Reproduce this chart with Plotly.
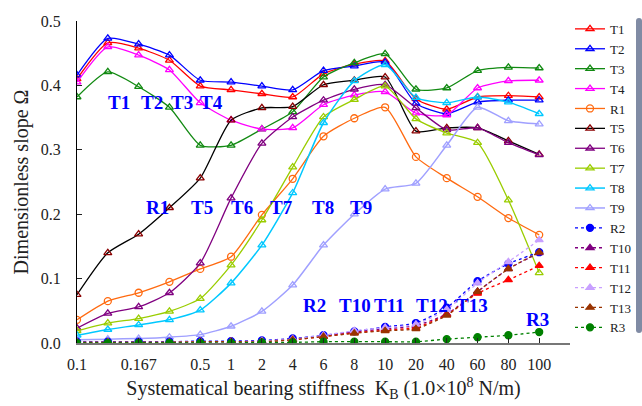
import plotly.graph_objects as go

KB_LABELS = ["0.1", "", "0.167", "", "0.5", "1", "2", "4", "6", "8", "10", "20", "40", "60", "80", "100"]

T1 = [0.410, 0.466, 0.458, 0.439, 0.399, 0.393, 0.387, 0.382, 0.418, 0.433, 0.438, 0.379, 0.363, 0.382, 0.384, 0.382]
T2 = [0.416, 0.473, 0.464, 0.447, 0.408, 0.405, 0.399, 0.393, 0.423, 0.430, 0.436, 0.372, 0.356, 0.374, 0.377, 0.377]
T3 = [0.382, 0.421, 0.398, 0.366, 0.307, 0.307, 0.332, 0.359, 0.413, 0.435, 0.449, 0.394, 0.396, 0.423, 0.428, 0.427]
T4 = [0.405, 0.460, 0.447, 0.424, 0.373, 0.346, 0.332, 0.334, 0.370, 0.385, 0.390, 0.357, 0.354, 0.396, 0.407, 0.408]
R1 = [0.036, 0.065, 0.078, 0.095, 0.115, 0.134, 0.199, 0.255, 0.321, 0.349, 0.366, 0.289, 0.256, 0.227, 0.194, 0.168]
T5 = [0.075, 0.140, 0.169, 0.210, 0.256, 0.346, 0.365, 0.367, 0.401, 0.408, 0.413, 0.329, 0.334, 0.334, 0.314, 0.293]
T6 = [0.023, 0.046, 0.056, 0.078, 0.124, 0.225, 0.310, 0.351, 0.377, 0.394, 0.401, 0.365, 0.331, 0.334, 0.311, 0.292]
T7 = [0.019, 0.031, 0.038, 0.049, 0.069, 0.121, 0.191, 0.273, 0.351, 0.378, 0.399, 0.348, 0.326, 0.311, 0.222, 0.109]
T8 = [0.012, 0.021, 0.028, 0.036, 0.051, 0.093, 0.152, 0.233, 0.342, 0.407, 0.432, 0.381, 0.373, 0.382, 0.374, 0.356]
T9 = [0.005, 0.006, 0.007, 0.009, 0.013, 0.026, 0.049, 0.090, 0.152, 0.200, 0.239, 0.248, 0.307, 0.366, 0.345, 0.340]
R2 = [0.002, 0.002, 0.002, 0.002, 0.003, 0.003, 0.004, 0.007, 0.012, 0.018, 0.025, 0.031, 0.055, 0.096, 0.123, 0.141]
T10 = [0.001, 0.001, 0.001, 0.001, 0.002, 0.002, 0.003, 0.006, 0.011, 0.017, 0.022, 0.027, 0.045, 0.080, 0.115, 0.140]
T11 = [0.001, 0.001, 0.001, 0.001, 0.002, 0.002, 0.002, 0.005, 0.010, 0.016, 0.020, 0.024, 0.044, 0.077, 0.098, 0.120]
T12 = [0.001, 0.001, 0.001, 0.001, 0.002, 0.002, 0.003, 0.006, 0.012, 0.019, 0.024, 0.029, 0.052, 0.093, 0.126, 0.160]
T13 = [0.001, 0.001, 0.001, 0.001, 0.002, 0.002, 0.002, 0.005, 0.010, 0.015, 0.019, 0.022, 0.043, 0.080, 0.115, 0.141]
R3 = [0.000, 0.000, 0.000, 0.000, 0.000, 0.000, 0.001, 0.001, 0.002, 0.002, 0.002, 0.002, 0.006, 0.009, 0.012, 0.017]

LABELS_ROW1 = ["T1", "T2", "T3", "T4"]
LABELS_ROW2 = ["R1", "T5", "T6", "T7", "T8", "T9"]
LABELS_ROW3 = ["R2", "T10", "T11", "T12", "T13", "R3"]

x = list(range(len(KB_LABELS)))

SERIF = "Liberation Serif"

# name, values, line color, marker color, symbol, dash, line width
series = [
    ("T1", T1, "#FF0000", "#FF0000", "triangle-up-open", "solid", 1.3),
    ("T2", T2, "#0000FF", "#0000FF", "triangle-up-open", "solid", 1.3),
    ("T3", T3, "#128A12", "#128A12", "triangle-up-open", "solid", 1.3),
    ("T4", T4, "#FF00FF", "#FF00FF", "triangle-up-open", "solid", 1.3),
    ("R1", R1, "#FF6A10", "#FF6A10", "circle-open", "solid", 1.3),
    ("T5", T5, "#000000", "#8B0000", "triangle-up-open", "solid", 1.3),
    ("T6", T6, "#800080", "#800080", "triangle-up-open", "solid", 1.3),
    ("T7", T7, "#9ACD00", "#9ACD00", "triangle-up-open", "solid", 1.3),
    ("T8", T8, "#00C8FF", "#00C8FF", "triangle-up-open", "solid", 1.5),
    ("T9", T9, "#A0A0FF", "#A0A0FF", "triangle-up-open", "solid", 1.5),
    ("R2", R2, "#0000FF", "#0000FF", "circle", "dot", 1.3),
    ("T10", T10, "#800080", "#800080", "triangle-up", "dot", 1.3),
    ("T11", T11, "#FF0000", "#FF0000", "triangle-up", "dot", 1.3),
    ("T12", T12, "#C8A0FF", "#C8A0FF", "triangle-up", "dot", 1.3),
    ("T13", T13, "#993300", "#993300", "triangle-up", "dot", 1.3),
    ("R3", R3, "#008000", "#008000", "circle", "dot", 1.3),
]

fig = go.Figure()
for name, vals, lc, mc, sym, dash, lw in series:
    fig.add_trace(go.Scatter(
        x=x, y=vals, name=name, mode="lines+markers",
        line=dict(color=lc, width=lw, dash=dash, shape="spline", smoothing=0.6),
        marker=dict(symbol=sym, color=mc, size=7, line=dict(color=mc, width=1.3)),
    ))

label_font = dict(family=SERIF, size=19, color="#0000FF", weight="bold")
row1_x = [1.36, 2.43, 3.40, 4.37]
row2_x = [2.62, 4.05, 5.35, 6.64, 7.97, 9.23]
row3_x = [7.71, 9.01, 10.14, 11.53, 12.83, 14.93]
row3_y = [0.059, 0.059, 0.059, 0.059, 0.059, 0.037]
for t, xx in zip(LABELS_ROW1, row1_x):
    fig.add_annotation(x=xx, y=0.373, text=t, showarrow=False, font=label_font)
for t, xx in zip(LABELS_ROW2, row2_x):
    fig.add_annotation(x=xx, y=0.211, text=t, showarrow=False, font=label_font)
for t, xx, yy in zip(LABELS_ROW3, row3_x, row3_y):
    fig.add_annotation(x=xx, y=yy, text=t, showarrow=False, font=label_font)

tickvals = [i for i, l in enumerate(KB_LABELS) if l] + [len(KB_LABELS)]
ticktext = [l for l in KB_LABELS if l] + [""]

fig.update_layout(
    width=642, height=406,
    margin=dict(l=77, r=72, t=21, b=63, autoexpand=False),
    paper_bgcolor="white", plot_bgcolor="white",
    font=dict(family=SERIF, color="#222"),
    showlegend=True,
    legend=dict(x=1.0, xanchor="left", y=0.522, yanchor="middle",
                font=dict(family=SERIF, size=13, color="#222"),
                bgcolor="rgba(0,0,0,0)", tracegroupgap=0),
    xaxis=dict(range=[0, 16], tickvals=tickvals, ticktext=ticktext,
               ticks="inside", ticklen=5, tickcolor="#222",
               showline=True, linecolor="#777", linewidth=2,
               showgrid=False, zeroline=False,
               tickfont=dict(family=SERIF, size=16, color="#222"),
               ticklabelstandoff=6,
               title=dict(text="Systematical bearing stiffness  K<sub>B</sub> (1.0×10<sup>8</sup> N/m)",
                          font=dict(family=SERIF, size=20, color="#222"), standoff=9)),
    yaxis=dict(range=[0, 0.5], dtick=0.1, tickformat=".1f",
               ticks="inside", ticklen=5, tickcolor="#222",
               showline=True, linecolor="#000", linewidth=1,
               showgrid=False, zeroline=False,
               tickfont=dict(family=SERIF, size=16, color="#222"),
               ticklabelstandoff=12,
               title=dict(text="Dimensionless slope Ω",
                          font=dict(family=SERIF, size=20, color="#222"), standoff=6)),
)

fig.write_html("out.html", config={"displayModeBar": False},
               post_script="document.body.style.margin='0px';document.body.style.overflow='hidden';")
